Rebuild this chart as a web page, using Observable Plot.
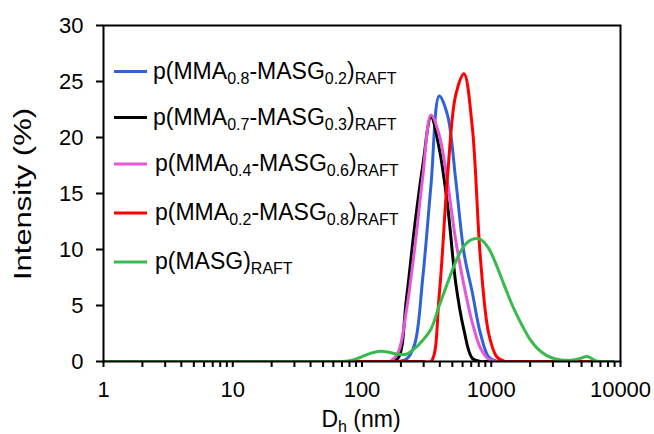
<!DOCTYPE html>
<html><head><meta charset="utf-8">
<script src="https://cdn.jsdelivr.net/npm/d3@7"></script>
<script src="https://cdn.jsdelivr.net/npm/@observablehq/plot@0.6"></script>
<style>html,body{margin:0;padding:0;background:#fff;}#chart svg{display:block;}</style>
</head><body><div id="chart"></div>
<script>
// Hydrodynamic diameter bins (nm)
const sizes = [0.9649,1.117,1.294,1.499,1.736,2.01,2.328,2.696,3.122,3.615,4.187,4.849,5.615,6.503,7.531,8.721,10.1,11.7,13.54,15.69,18.17,21.04,24.36,28.21,32.67,37.84,43.82,50.75,58.77,68.06,78.82,91.28,105.7,122.4,141.8,164.2,190.1,220.2,255.0,295.3,342.0,396.1,458.7,531.2,615.1,712.4,825.0,955.4,1106,1281,1484,1718,1990,2305,2669,3091,3580,4145,4801,5560,6439,7456,8635];

const seriesNames = [
  "p(MMA_{0.8}-MASG_{0.2})_{RAFT}",
  "p(MMA_{0.7}-MASG_{0.3})_{RAFT}",
  "p(MMA_{0.4}-MASG_{0.6})_{RAFT}",
  "p(MMA_{0.2}-MASG_{0.8})_{RAFT}",
  "p(MASG)_{RAFT}"
];
const seriesColors = ["#2f62d6", "#000000", "#e457d6", "#ff0000", "#38bb4c"];

const z30 = [0,0,0,0,0,0,0,0,0,0, 0,0,0,0,0,0,0,0,0,0, 0,0,0,0,0,0,0,0,0,0];
const intensityMMA08 = z30.concat([0,0,0,0,0,0,0,0.2,1.5,7.5,15.8,23.7,22.0,16.2,9.7,6.2,2.5,0.4,0,0,0,0,0,0,0,0,0,0,0,0,0,0,0]);
const intensityMMA07 = z30.concat([0,0,0,0,0,0,0.3,5.5,12.0,17.5,21.8,19.0,14.0,7.0,2.8,0.3,0,0,0,0,0,0,0,0,0,0,0,0,0,0,0,0,0]);
const intensityMMA04 = z30.concat([0,0,0,0,0,0,0.8,4.5,10.0,16.5,22.0,20.2,16.0,10.8,6.8,3.5,1.2,0.2,0,0,0,0,0,0,0,0,0,0,0,0,0,0,0]);
const intensityMMA02 = z30.concat([0,0,0,0,0,0,0,0,0,0,0,6.0,16.5,23.8,25.7,21.0,9.2,2.5,0.4,0,0,0,0,0,0,0,0,0,0,0,0,0,0]);
const intensityMASG  = z30.concat([0.05,0.25,0.55,0.8,0.92,0.8,0.65,0.65,1.15,1.9,2.9,5.0,7.0,8.9,10.3,10.9,10.9,10.1,8.5,6.6,4.8,3.3,2.0,1.1,0.55,0.25,0.12,0.12,0.25,0.45,0.05,0,0]);

const yTicks = [0,5,10,15,20,25,30];
const xMajorTicks = [1,10,100,1000,10000];
const xMinorTicks = [2,3,4,5,6,7,8,9,20,30,40,50,60,70,80,90,200,300,400,500,600,700,800,900,2000,3000,4000,5000,6000,7000,8000,9000];
const xTitle = ["D", "h", " (nm)"];
const yTitle = "Intensity (%)";

const seriesValues = [intensityMMA08, intensityMMA07, intensityMMA04, intensityMMA02, intensityMASG];
const data = seriesValues.flatMap((vals, i) => vals.map((v, j) => ({size: sizes[j], intensity: v, series: seriesNames[i]})));

const FONT = "'Liberation Sans', Arial, sans-serif";

const chart = Plot.plot({
  width: 654, height: 434,
  marginLeft: 103, marginRight: 34, marginTop: 25, marginBottom: 73,
  x: {type: "log", domain: [1, 10000]},
  y: {domain: [0, 30]},
  color: {domain: seriesNames, range: seriesColors},
  style: {fontFamily: FONT, fontSize: "22px", color: "#000", background: "#fff", overflow: "visible"},
  marks: [
    Plot.line(data, {x: "size", y: "intensity", z: "series", stroke: "series", strokeWidth: 3, curve: "catmull-rom", clip: true}),
    Plot.frame({stroke: "#000", strokeWidth: 2}),
    Plot.axisY(yTicks, {tickSize: 7, tickPadding: 13, label: null, strokeWidth: 2, fontSize: 22}),
    Plot.axisX(xMajorTicks, {tickSize: 6, tickPadding: 14, label: null, strokeWidth: 2, fontSize: 22, tickFormat: d => String(d)}),
    Plot.axisX(xMinorTicks, {tickSize: 6, label: null, strokeWidth: 2, tickFormat: () => null})
  ]
});
document.getElementById("chart").appendChild(chart);

const svg = d3.select(chart);

function richText(sel, label, subSize) {
  const parts = label.split(/(_\{[^}]*\})/).filter(s => s.length);
  let lowered = false;
  parts.forEach(p => {
    if (p.startsWith("_{")) {
      sel.append("tspan").attr("font-size", subSize).attr("dy", lowered ? 0 : 5).text(p.slice(2, -1));
      lowered = true;
    } else {
      sel.append("tspan").attr("dy", lowered ? -5 : 0).text(p);
      lowered = false;
    }
  });
}

// axis titles
svg.append("text")
  .attr("transform", "translate(31,194) rotate(-90)")
  .attr("text-anchor", "middle")
  .attr("font-family", FONT).attr("font-size", 23).attr("fill", "#000")
  .attr("textLength", 172).attr("lengthAdjust", "spacingAndGlyphs")
  .text(yTitle);

const xt = svg.append("text")
  .attr("x", 361).attr("y", 427)
  .attr("text-anchor", "middle")
  .attr("font-family", FONT).attr("font-size", 23).attr("fill", "#000");
xt.append("tspan").text(xTitle[0]);
xt.append("tspan").attr("font-size", 16).attr("dy", 5).text(xTitle[1]);
xt.append("tspan").attr("dy", -5).text(xTitle[2]);

// legend
const legendY = [71.5, 117.5, 164, 213, 262];
const legend = svg.append("g");
seriesNames.forEach((name, i) => {
  const g = legend.append("g").attr("transform", `translate(0,${legendY[i]})`);
  g.append("line").attr("x1", 114).attr("x2", 147).attr("y1", 0).attr("y2", 0)
    .attr("stroke", seriesColors[i]).attr("stroke-width", 3);
  const t = g.append("text").attr("x", i >= 2 ? 155 : 153).attr("y", 7)
    .attr("text-anchor", "start")
    .attr("font-family", FONT).attr("font-size", 23).attr("fill", "#000");
  richText(t, name, 16);
});
</script></body></html>
